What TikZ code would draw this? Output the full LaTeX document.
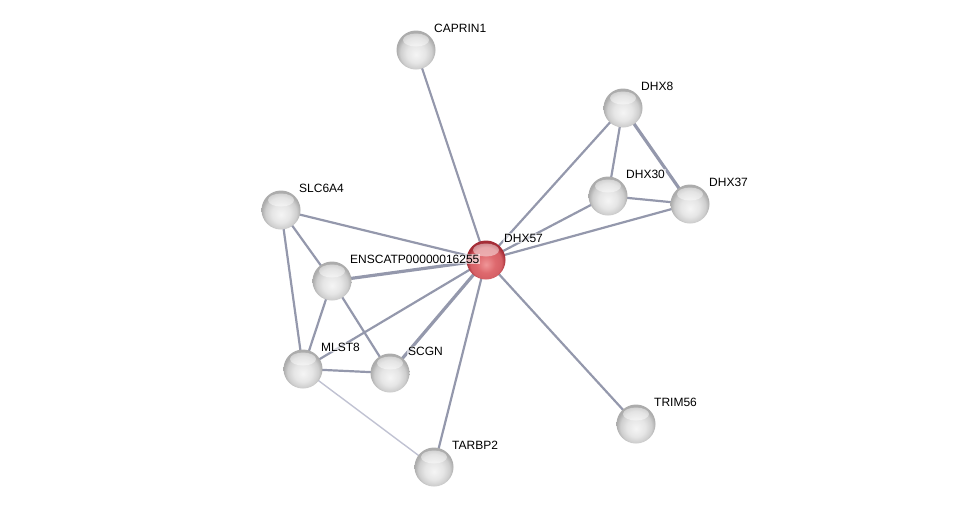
\documentclass[tikz,border=0pt]{standalone}
\usepackage{fontspec}
\setmainfont{Liberation Sans}
\usetikzlibrary{backgrounds}
\definecolor{edgegray}{RGB}{148, 152, 172}
\definecolor{edgelight}{RGB}{192, 194, 210}
\definecolor{redlight}{RGB}{240, 150, 152}
\definecolor{redmid}{RGB}{222, 105, 110}
\definecolor{reddark}{RGB}{165, 45, 55}
\pgfdeclareradialshading{glassgray}{\pgfpoint{0bp}{-6bp}}{%
  color(0bp)=(white!92!gray); color(12bp)=(white!80!gray);
  color(20bp)=(white!62!gray); color(25bp)=(white!35!gray); color(50bp)=(white!35!gray)}
\pgfdeclareradialshading{glassred}{\pgfpoint{0bp}{-6bp}}{%
  color(0bp)=(redlight); color(12bp)=(redmid);
  color(20bp)=(redmid!85!reddark); color(25bp)=(reddark); color(50bp)=(reddark)}

\begin{document}
\begin{tikzpicture}[
    x=1pt, y=-1pt,
    protein/.style={
        circle,
        minimum size=39pt,
        inner sep=0pt,
        shading=glassgray,
        path picture={
            \fill[white, opacity=0.45]
                ([yshift=10pt]path picture bounding box.center) ellipse (13pt and 6.5pt);
        }
    },
    query/.style={protein, shading=glassred},
    lbl/.style={
        anchor=base west,
        font=\fontsize{12}{14}\selectfont,
        inner sep=1pt,
        fill=white, fill opacity=0.6, text opacity=1
    },
    link/.style={edgegray, line width=2.2pt},
    strong/.style={link, line width=3.2pt},
    weak/.style={edgelight, line width=1.4pt}
]
\useasboundingbox (0,0) rectangle (976,512);

\node[protein] (caprin1) at (416,50) {};
\node[protein] (dhx8) at (623,108) {};
\node[protein] (dhx30) at (608,196) {};
\node[protein] (dhx37) at (690,204) {};
\node[query] (dhx57) at (486,260) {};
\node[protein] (slc6a4) at (281,210) {};
\node[protein] (enscatp) at (332,281) {};
\node[protein] (mlst8) at (303,369) {};
\node[protein] (scgn) at (390,373) {};
\node[protein] (tarbp2) at (434,467) {};
\node[protein] (trim56) at (636,424) {};

\begin{pgfonlayer}{background}
\draw[link] (caprin1.center) -- (dhx57.center);
\draw[link] (dhx8.center) -- (dhx57.center);
\draw[link] (dhx8.center) -- (dhx30.center);
\draw[strong] (dhx8.center) -- (dhx37.center);
\draw[link] (dhx30.center) -- (dhx37.center);
\draw[link] (dhx30.center) -- (dhx57.center);
\draw[link] (dhx37.center) -- (dhx57.center);
\draw[link] (slc6a4.center) -- (dhx57.center);
\draw[link] (slc6a4.center) -- (enscatp.center);
\draw[link] (slc6a4.center) -- (mlst8.center);
\draw[strong] (enscatp.center) -- (dhx57.center);
\draw[link] (enscatp.center) -- (mlst8.center);
\draw[link] (enscatp.center) -- (scgn.center);
\draw[link] (mlst8.center) -- (dhx57.center);
\draw[link] (mlst8.center) -- (scgn.center);
\draw[weak] (mlst8.center) -- (tarbp2.center);
\draw[strong] (scgn.center) -- (dhx57.center);
\draw[link] (tarbp2.center) -- (dhx57.center);
\draw[link] (trim56.center) -- (dhx57.center);
\end{pgfonlayer}

% labels
\node[lbl] (caprin1-t) at ([shift={(17pt,18pt)}]caprin1.center) {CAPRIN1};
\node[lbl] (dhx8-t) at ([shift={(17pt,18pt)}]dhx8.center) {DHX8};
\node[lbl] (dhx30-t) at ([shift={(17pt,18pt)}]dhx30.center) {DHX30};
\node[lbl] (dhx37-t) at ([shift={(18pt,18pt)}]dhx37.center) {DHX37};
\node[lbl] (dhx57-t) at ([shift={(17pt,18pt)}]dhx57.center) {DHX57};
\node[lbl] (slc6a4-t) at ([shift={(17pt,18pt)}]slc6a4.center) {SLC6A4};
\node[lbl] (enscatp-t) at ([shift={(17pt,18pt)}]enscatp.center) {ENSCATP00000016255};
\node[lbl] (mlst8-t) at ([shift={(17pt,18pt)}]mlst8.center) {MLST8};
\node[lbl] (scgn-t) at ([shift={(17pt,18pt)}]scgn.center) {SCGN};
\node[lbl] (tarbp2-t) at ([shift={(17pt,18pt)}]tarbp2.center) {TARBP2};
\node[lbl] (trim56-t) at ([shift={(17pt,18pt)}]trim56.center) {TRIM56};
\end{tikzpicture}
\end{document}
